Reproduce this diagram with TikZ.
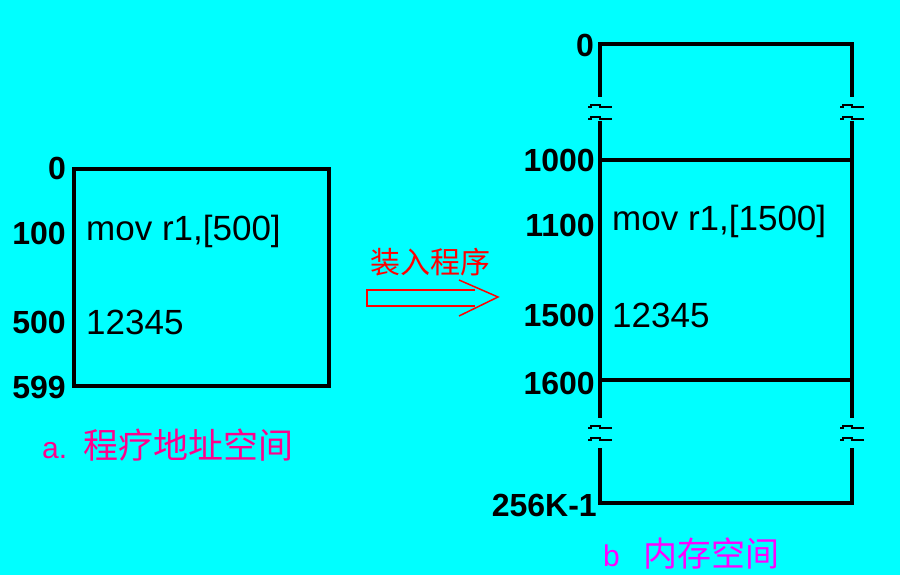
\documentclass[tikz,border=0pt]{standalone}
\usepackage{fontspec}
\setmainfont{Liberation Sans}
\newfontfamily\cjk{Noto Sans CJK SC}
\usetikzlibrary{calc}
\definecolor{bgcyan}{RGB}{0,255,255}
\definecolor{capa}{RGB}{255,0,140}
\definecolor{capb}{RGB}{255,0,255}
\tikzset{
  addr/.style={anchor=east, inner sep=0pt, font=\bfseries\fontsize{32}{32}\selectfont},
  cell/.style={anchor=west, inner sep=0pt, font=\fontsize{35}{35}\selectfont},
  wall/.style={line width=4pt}
}
% break mark on a vertical wall
\def\brk(#1,#2){\draw[line width=2.5pt] ($(#1,#2)+(-12,2)$) -- ++(3,0) -- ++(0,-2) -- ++(9,0) -- ++(0,2) -- ++(12,0);}

\begin{document}
\begin{tikzpicture}[x=1pt,y=-1pt]
			%%%%% START %%%%%
			\fill[bgcyan] (0,0) rectangle (900,575);
			\useasboundingbox (0,0) rectangle (900,575);
			
			% program address space
			\draw[wall] (74,169) rectangle (329,386);
			\node[addr] (pz) at (66,168) {0};
			\node[addr] (p100) at (66,233) {100};
			\node[addr] (p500) at (66,322) {500};
			\node[addr] (p599) at (66,387) {599};
			\node[cell] (pmov) at (86,231) {mov r1,[500]};
			\node[cell] (pdat) at (86,322) {12345};
			\node[anchor=west, inner sep=0pt, text=capa, font=\fontsize{30}{30}\selectfont] (pcap) at (42,445) {a.\hspace{16pt}{\cjk\fontsize{35}{35}\selectfont 程疗地址空间}};
			
			% load arrow
			\node[anchor=south, inner sep=0pt, text=red, font=\cjk\fontsize{30}{30}\selectfont] (load) at (430,276) {装入程序};
			\draw[red, line width=1.5pt] (475,290) -- (367,290) -- (367,306) -- (475,306);
			\draw[red, line width=1.5pt] (459,280) -- (498,297) -- (459,316);
			
			% memory space
			\draw[wall] (600,97) -- (600,44) -- (852,44) -- (852,97);
			\brk(600,105)
			\brk(600,117)
			\brk(852,105)
			\brk(852,117)
			\draw[wall] (600,121) -- (600,418);
			\draw[wall] (852,121) -- (852,418);
			\draw[wall] (600,160) -- (852,160);
			\draw[wall] (600,380) -- (852,380);
			\brk(600,426)
			\brk(600,438)
			\brk(852,426)
			\brk(852,438)
			\draw[wall] (600,448) -- (600,503) -- (852,503) -- (852,448);
			\node[addr] (mz) at (594,45) {0};
			\node[addr] (m1000) at (595,160) {1000};
			\node[addr] (m1100) at (595,225) {1100};
			\node[addr] (m1500) at (595,315) {1500};
			\node[addr] (m1600) at (595,383) {1600};
			\node[addr] (mtop) at (597,505) {256K-1};
			\node[cell] (mmov) at (612,221) {mov r1,[1500]};
			\node[cell] (mdat) at (612,315) {12345};
			\node[anchor=west, inner sep=0pt, text=capb, font=\fontsize{30}{30}\selectfont] (mcap) at (603,554) {b\hspace{24pt}{\cjk\fontsize{34}{34}\selectfont 内存空间}};
			%%%%% END %%%%%
\end{tikzpicture}
\end{document}
